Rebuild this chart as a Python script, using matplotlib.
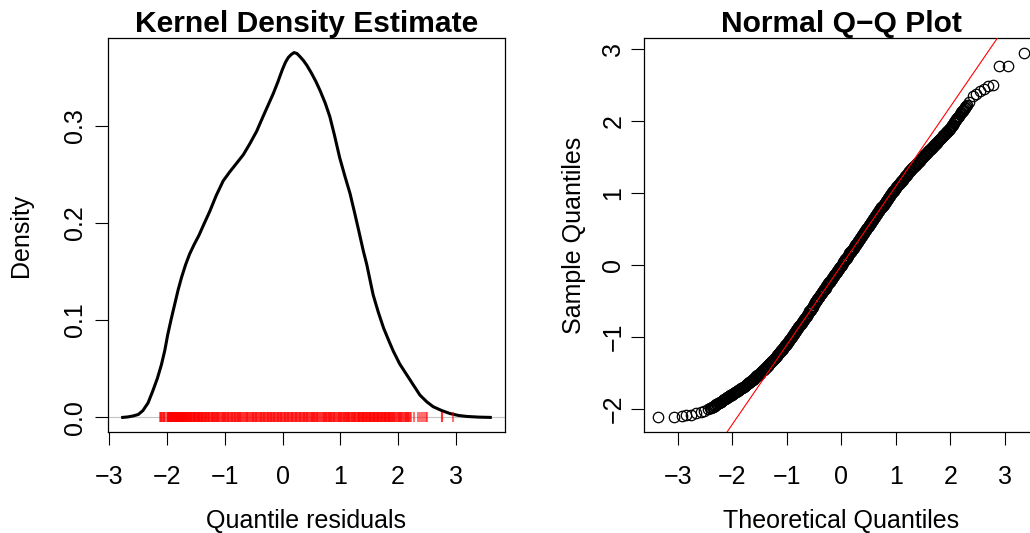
import matplotlib
matplotlib.use('Agg')
import matplotlib.pyplot as plt
import numpy as np

plt.rcParams['font.family'] = ['Liberation Sans', 'DejaVu Sans']
plt.rcParams['font.size'] = 18

# densidad estimada
dens_x = [-2.77, -2.68, -2.59, -2.50, -2.42, -2.33, -2.25, -2.17, -2.10, -2.04,
          -1.99, -1.93, -1.87, -1.81, -1.75, -1.68, -1.61, -1.53, -1.45, -1.36,
          -1.26, -1.15, -1.03, -0.92, -0.80, -0.68, -0.57, -0.45, -0.34, -0.25,
          -0.16, -0.08, -0.05, 0.00, 0.05, 0.10, 0.15, 0.20, 0.25, 0.30,
          0.36, 0.42, 0.50, 0.58, 0.65, 0.74, 0.82, 0.90, 0.99, 1.08,
          1.17, 1.25, 1.32, 1.40, 1.46, 1.52, 1.57, 1.66, 1.75, 1.84,
          1.92, 2.03, 2.15, 2.27, 2.38, 2.50, 2.61, 2.76, 2.90, 3.05,
          3.19, 3.40, 3.60]
dens_y = [0.000, 0.0005, 0.0015, 0.003, 0.007, 0.015, 0.027, 0.040, 0.054, 0.069,
          0.085, 0.101, 0.116, 0.131, 0.144, 0.157, 0.168, 0.178, 0.187, 0.199,
          0.212, 0.228, 0.243, 0.252, 0.261, 0.270, 0.281, 0.294, 0.309, 0.321,
          0.333, 0.345, 0.350, 0.358, 0.365, 0.370, 0.373, 0.375, 0.374, 0.371,
          0.367, 0.362, 0.354, 0.345, 0.336, 0.323, 0.309, 0.290, 0.267, 0.248,
          0.230, 0.210, 0.192, 0.171, 0.157, 0.140, 0.126, 0.108, 0.092, 0.079,
          0.068, 0.055, 0.044, 0.033, 0.023, 0.016, 0.011, 0.007, 0.004, 0.002,
          0.001, 0.0003, 0.000]

# cuantiles teoricos (eje x del Q-Q)
theo_q = [-3.36, -3.06, -2.93, -2.84, -2.75, -2.66, -2.58, -2.51, -2.45,
          -2.4000, -2.3875, -2.3750, -2.3625, -2.3500, -2.3375, -2.3250, -2.3125,
          -2.3000, -2.2875, -2.2750, -2.2625, -2.2500, -2.2375, -2.2250, -2.2125,
          -2.2000, -2.1875, -2.1750, -2.1625, -2.1500, -2.1375, -2.1250, -2.1125,
          -2.1000, -2.0875, -2.0750, -2.0625, -2.0500, -2.0375, -2.0250, -2.0125,
          -2.0000, -1.9875, -1.9750, -1.9625, -1.9500, -1.9375, -1.9250, -1.9125,
          -1.9000, -1.8875, -1.8750, -1.8625, -1.8500, -1.8375, -1.8250, -1.8125,
          -1.8000, -1.7875, -1.7750, -1.7625, -1.7500, -1.7375, -1.7250, -1.7125,
          -1.7000, -1.6875, -1.6750, -1.6625, -1.6500, -1.6375, -1.6250, -1.6125,
          -1.6000, -1.5875, -1.5750, -1.5625, -1.5500, -1.5375, -1.5250, -1.5125,
          -1.5000, -1.4875, -1.4750, -1.4625, -1.4500, -1.4375, -1.4250, -1.4125,
          -1.4000, -1.3875, -1.3750, -1.3625, -1.3500, -1.3375, -1.3250, -1.3125,
          -1.3000, -1.2875, -1.2750, -1.2625, -1.2500, -1.2375, -1.2250, -1.2125,
          -1.2000, -1.1875, -1.1750, -1.1625, -1.1500, -1.1375, -1.1250, -1.1125,
          -1.1000, -1.0875, -1.0750, -1.0625, -1.0500, -1.0375, -1.0250, -1.0125,
          -1.0000, -0.9875, -0.9750, -0.9625, -0.9500, -0.9375, -0.9250, -0.9125,
          -0.9000, -0.8875, -0.8750, -0.8625, -0.8500, -0.8375, -0.8250, -0.8125,
          -0.8000, -0.7875, -0.7750, -0.7625, -0.7500, -0.7375, -0.7250, -0.7125,
          -0.7000, -0.6875, -0.6750, -0.6625, -0.6500, -0.6375, -0.6250, -0.6125,
          -0.6000, -0.5875, -0.5750, -0.5625, -0.5500, -0.5375, -0.5250, -0.5125,
          -0.5000, -0.4875, -0.4750, -0.4625, -0.4500, -0.4375, -0.4250, -0.4125,
          -0.4000, -0.3875, -0.3750, -0.3625, -0.3500, -0.3375, -0.3250, -0.3125,
          -0.3000, -0.2875, -0.2750, -0.2625, -0.2500, -0.2375, -0.2250, -0.2125,
          -0.2000, -0.1875, -0.1750, -0.1625, -0.1500, -0.1375, -0.1250, -0.1125,
          -0.1000, -0.0875, -0.0750, -0.0625, -0.0500, -0.0375, -0.0250, -0.0125,
          0.0000, 0.0125, 0.0250, 0.0375, 0.0500, 0.0625, 0.0750, 0.0875,
          0.1000, 0.1125, 0.1250, 0.1375, 0.1500, 0.1625, 0.1750, 0.1875,
          0.2000, 0.2125, 0.2250, 0.2375, 0.2500, 0.2625, 0.2750, 0.2875,
          0.3000, 0.3125, 0.3250, 0.3375, 0.3500, 0.3625, 0.3750, 0.3875,
          0.4000, 0.4125, 0.4250, 0.4375, 0.4500, 0.4625, 0.4750, 0.4875,
          0.5000, 0.5125, 0.5250, 0.5375, 0.5500, 0.5625, 0.5750, 0.5875,
          0.6000, 0.6125, 0.6250, 0.6375, 0.6500, 0.6625, 0.6750, 0.6875,
          0.7000, 0.7125, 0.7250, 0.7375, 0.7500, 0.7625, 0.7750, 0.7875,
          0.8000, 0.8125, 0.8250, 0.8375, 0.8500, 0.8625, 0.8750, 0.8875,
          0.9000, 0.9125, 0.9250, 0.9375, 0.9500, 0.9625, 0.9750, 0.9875,
          1.0000, 1.0125, 1.0250, 1.0375, 1.0500, 1.0625, 1.0750, 1.0875,
          1.1000, 1.1125, 1.1250, 1.1375, 1.1500, 1.1625, 1.1750, 1.1875,
          1.2000, 1.2125, 1.2250, 1.2375, 1.2500, 1.2625, 1.2750, 1.2875,
          1.3000, 1.3125, 1.3250, 1.3375, 1.3500, 1.3625, 1.3750, 1.3875,
          1.4000, 1.4125, 1.4250, 1.4375, 1.4500, 1.4625, 1.4750, 1.4875,
          1.5000, 1.5125, 1.5250, 1.5375, 1.5500, 1.5625, 1.5750, 1.5875,
          1.6000, 1.6125, 1.6250, 1.6375, 1.6500, 1.6625, 1.6750, 1.6875,
          1.7000, 1.7125, 1.7250, 1.7375, 1.7500, 1.7625, 1.7750, 1.7875,
          1.8000, 1.8125, 1.8250, 1.8375, 1.8500, 1.8625, 1.8750, 1.8875,
          1.9000, 1.9125, 1.9250, 1.9375, 1.9500, 1.9625, 1.9750, 1.9875,
          2.0000, 2.0125, 2.0250, 2.0375, 2.0500, 2.0625, 2.0750, 2.0875,
          2.1000, 2.1125, 2.1250, 2.1375, 2.1500, 2.1625, 2.1750, 2.1875,
          2.2000, 2.2125, 2.2250, 2.2375, 2.2500, 2.2625, 2.2750, 2.2875,
          2.3000, 2.35, 2.42, 2.48, 2.55, 2.62, 2.70, 2.79, 2.90, 3.05, 3.35]

# cuantiles muestrales = residuos ordenados (eje y del Q-Q y rug)
samp_q = [-2.12, -2.11, -2.10, -2.09, -2.08, -2.06, -2.05, -2.03, -2.01,
          -1.990, -1.985, -1.980, -1.975, -1.970, -1.962, -1.955, -1.948,
          -1.940, -1.935, -1.930, -1.925, -1.920, -1.915, -1.910, -1.905,
          -1.900, -1.892, -1.885, -1.878, -1.870, -1.865, -1.860, -1.855,
          -1.850, -1.842, -1.835, -1.828, -1.820, -1.815, -1.810, -1.805,
          -1.800, -1.792, -1.785, -1.778, -1.770, -1.765, -1.760, -1.755,
          -1.750, -1.742, -1.735, -1.728, -1.720, -1.715, -1.710, -1.705,
          -1.700, -1.692, -1.685, -1.678, -1.670, -1.662, -1.655, -1.648,
          -1.640, -1.632, -1.625, -1.618, -1.610, -1.602, -1.595, -1.588,
          -1.580, -1.570, -1.560, -1.550, -1.540, -1.532, -1.525, -1.518,
          -1.510, -1.500, -1.490, -1.480, -1.470, -1.462, -1.455, -1.448,
          -1.440, -1.430, -1.420, -1.410, -1.400, -1.390, -1.380, -1.370,
          -1.360, -1.350, -1.340, -1.330, -1.320, -1.310, -1.300, -1.290,
          -1.280, -1.268, -1.255, -1.242, -1.230, -1.220, -1.210, -1.200,
          -1.190, -1.178, -1.165, -1.152, -1.140, -1.130, -1.120, -1.110,
          -1.100, -1.085, -1.070, -1.055, -1.040, -1.028, -1.015, -1.002,
          -0.990, -0.978, -0.965, -0.952, -0.940, -0.925, -0.910, -0.895,
          -0.880, -0.868, -0.855, -0.842, -0.830, -0.818, -0.805, -0.792,
          -0.780, -0.768, -0.755, -0.742, -0.730, -0.712, -0.695, -0.678,
          -0.660, -0.648, -0.635, -0.622, -0.610, -0.595, -0.580, -0.565,
          -0.550, -0.535, -0.520, -0.505, -0.490, -0.478, -0.465, -0.452,
          -0.440, -0.425, -0.410, -0.395, -0.380, -0.368, -0.355, -0.342,
          -0.330, -0.315, -0.300, -0.285, -0.270, -0.258, -0.245, -0.232,
          -0.220, -0.208, -0.195, -0.182, -0.170, -0.155, -0.140, -0.125,
          -0.110, -0.098, -0.085, -0.072, -0.060, -0.048, -0.035, -0.022,
          -0.010, 0.005, 0.020, 0.035, 0.050, 0.062, 0.075, 0.088,
          0.100, 0.115, 0.130, 0.145, 0.160, 0.172, 0.185, 0.198,
          0.210, 0.225, 0.240, 0.255, 0.270, 0.282, 0.295, 0.308,
          0.320, 0.335, 0.350, 0.365, 0.380, 0.392, 0.405, 0.418,
          0.430, 0.445, 0.460, 0.475, 0.490, 0.502, 0.515, 0.528,
          0.540, 0.552, 0.565, 0.578, 0.590, 0.605, 0.620, 0.635,
          0.650, 0.665, 0.680, 0.695, 0.710, 0.722, 0.735, 0.748,
          0.760, 0.772, 0.785, 0.798, 0.810, 0.822, 0.835, 0.848,
          0.860, 0.872, 0.885, 0.898, 0.910, 0.925, 0.940, 0.955,
          0.970, 0.982, 0.995, 1.008, 1.020, 1.032, 1.045, 1.058,
          1.070, 1.082, 1.095, 1.108, 1.120, 1.130, 1.140, 1.150,
          1.160, 1.172, 1.185, 1.198, 1.210, 1.220, 1.230, 1.240,
          1.250, 1.262, 1.275, 1.288, 1.300, 1.310, 1.320, 1.330,
          1.340, 1.350, 1.360, 1.370, 1.380, 1.390, 1.400, 1.410,
          1.420, 1.430, 1.440, 1.450, 1.460, 1.470, 1.480, 1.490,
          1.500, 1.510, 1.520, 1.530, 1.540, 1.550, 1.560, 1.570,
          1.580, 1.590, 1.600, 1.610, 1.620, 1.630, 1.640, 1.650,
          1.660, 1.670, 1.680, 1.690, 1.700, 1.710, 1.720, 1.730,
          1.740, 1.750, 1.760, 1.770, 1.780, 1.790, 1.800, 1.810,
          1.820, 1.830, 1.840, 1.850, 1.860, 1.870, 1.880, 1.890,
          1.900, 1.912, 1.925, 1.938, 1.950, 1.965, 1.980, 1.995,
          2.010, 2.022, 2.035, 2.048, 2.060, 2.075, 2.090, 2.105,
          2.120, 2.132, 2.145, 2.158, 2.170, 2.182, 2.195, 2.208,
          2.220, 2.27, 2.34, 2.38, 2.42, 2.45, 2.48, 2.50, 2.76, 2.77, 2.95]

W, H = 1030, 533
fig = plt.figure(figsize=(W / 100, H / 100), dpi=100)


def estilo_r(ax, xt, yt, yfmt, ypad):
    ax.margins(0.04)
    ax.set_xticks(xt)
    ax.set_yticks(yt)
    ax.set_yticklabels([yfmt.format(v).replace('-', '\u2212') for v in yt])
    for s in ax.spines.values():
        s.set_linewidth(0.9)
    ax.tick_params(axis='x', direction='out', length=9.4, width=0.8, pad=14)
    ax.tick_params(axis='y', direction='out', length=9.4, width=0.8, pad=ypad)
    for lbl in ax.get_yticklabels():
        lbl.set_rotation(90)
        lbl.set_rotation_mode('anchor')
        lbl.set_ha('center')
        lbl.set_va('baseline')


# Panel izquierdo: densidad
ax1 = fig.add_axes([108 / W, 101 / H, 397 / W, 394 / H])
ax1.axhline(0, color='#c4c4c4', lw=0.8, zorder=0)
ax1.plot(dens_x, dens_y, color='black', lw=2.2, solid_joinstyle='round')
ax1.plot(samp_q, np.zeros(len(samp_q)), ls='none', marker='|', ms=7.5,
         mew=1.5, color='red', alpha=0.55)
estilo_r(ax1, [-3, -2, -1, 0, 1, 2, 3], [0.0, 0.1, 0.2, 0.3], '{:.1f}', 9.4)
ax1.set_title('Kernel Density Estimate', fontweight='bold', fontsize=21.6, pad=3.4)
ax1.set_xlabel('Quantile residuals')
ax1.xaxis.set_label_coords(0.5, -0.2437)
ax1.xaxis.label.set_va('baseline')
ax1.set_ylabel('Density')
ax1.yaxis.set_label_coords(-0.2015, 0.5)
ax1.yaxis.label.set_va('baseline')

# Panel derecho: Q-Q normal
ax2 = fig.add_axes([643.5 / W, 101 / H, 395 / W, 394 / H])
ax2.plot(theo_q, samp_q, ls='none', marker='o', mfc='none', mec='black',
         ms=7.5, mew=0.9)
q1, q3 = np.interp([-0.6745, 0.6745], theo_q, samp_q)
pend = (q3 - q1) / (2 * 0.6745)
ax2.axline((0, (q1 + q3) / 2), slope=pend, color='red', lw=0.8, zorder=3)
estilo_r(ax2, [-3, -2, -1, 0, 1, 2, 3], [-2, -1, 0, 1, 2, 3], '{:d}', 7.2)
ax2.set_title('Normal Q\u2212Q Plot', fontweight='bold', fontsize=21.6, pad=3.4)
ax2.set_xlabel('Theoretical Quantiles')
ax2.xaxis.set_label_coords(0.5, -0.2437)
ax2.xaxis.label.set_va('baseline')
ax2.set_ylabel('Sample Quantiles')
ax2.yaxis.set_label_coords(-63 / 395, 0.5)
ax2.yaxis.label.set_va('baseline')

fig.savefig('out.png', dpi=100)
